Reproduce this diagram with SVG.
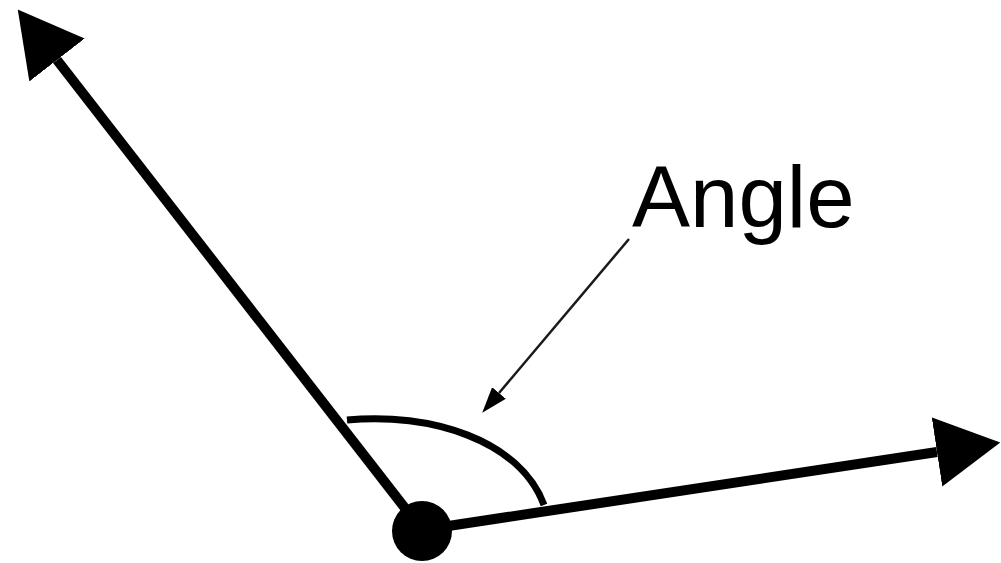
<svg xmlns="http://www.w3.org/2000/svg" width="1001" height="563" viewBox="0 0 1001 563">
  <style>
    .ray { stroke: #000; stroke-width: 10; fill: none; }
    .arc { stroke: #000; stroke-width: 7; fill: none; }
    .pointer { stroke: #1a1a1a; stroke-width: 2.5; fill: none; }
    .label { font-family: "Liberation Sans", Arial, sans-serif; font-size: 87px; fill: #000; }
  </style>
  <defs>
    <marker id="bigHead" markerUnits="userSpaceOnUse" viewBox="0 0 64 70" refX="0" refY="35" markerWidth="64" markerHeight="70" orient="auto">
      <path d="M0,0 L64,35 L0,70 Z" fill="#000"/>
    </marker>
    <marker id="smallHead" markerUnits="userSpaceOnUse" viewBox="0 0 26 18" refX="0" refY="9" markerWidth="26" markerHeight="18" orient="auto">
      <path d="M0,0 L26,9 L0,18 Z" fill="#000"/>
    </marker>
  </defs>
  <rect width="1001" height="563" fill="#fff"/>
  <g id="connectors">
    <line id="ray-left" class="ray" x1="422" y1="530" x2="57" y2="60" marker-end="url(#bigHead)"/>
    <line id="ray-right" class="ray" x1="422" y1="530" x2="937" y2="452" marker-end="url(#bigHead)"/>
    <path id="angle-arc" class="arc" d="M347,420 C430,412 520,440 544,505"/>
    <line id="pointer" class="pointer" x1="629" y1="239" x2="499" y2="393" marker-end="url(#smallHead)"/>
  </g>
  <g id="vertex">
    <circle cx="422" cy="531" r="30" fill="#000"/>
  </g>
  <g id="label-angle">
    <text class="label" x="632" y="227">Angle</text>
  </g>
</svg>
